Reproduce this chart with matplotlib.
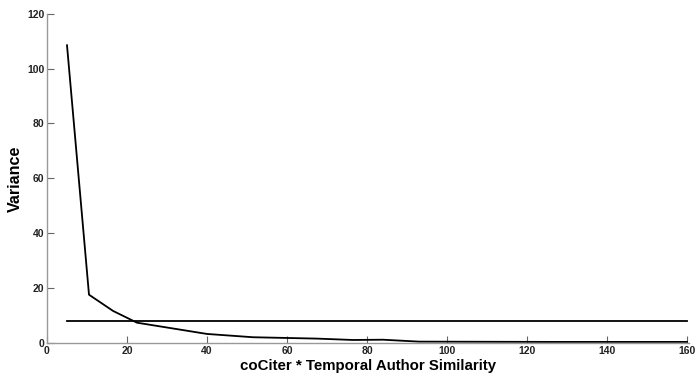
import matplotlib
matplotlib.use("Agg")
import matplotlib.pyplot as plt

# variance curve
num_clusters = [5, 10.5, 16.5, 22.5, 40, 51.5, 67.5, 76.5, 84, 93, 126, 160]
variance = [108.5, 17.6, 11.7, 7.4, 3.3, 2.1, 1.6, 1.1, 1.2, 0.5, 0.4, 0.4]

# threshold line
threshold_x = [5, 160]
threshold_y = [8.1, 8.1]

x_ticks = [0, 20, 40, 60, 80, 100, 120, 140, 160]
y_ticks = [0, 20, 40, 60, 80, 100, 120]

plt.rcParams["font.family"] = ["Liberation Sans", "DejaVu Sans"]

fig = plt.figure(figsize=(6.99, 3.73), dpi=100)
ax = fig.add_axes([47 / 699, 1 - 343 / 373, 642 / 699, 329.3 / 373])

ax.plot(num_clusters, variance, color="black", lw=1.3)
ax.plot(threshold_x, threshold_y, color="black", lw=1.3)

ax.set_xlim(0, 160.5)
ax.set_ylim(0, 120)
ax.set_xticks(x_ticks)
ax.set_yticks(y_ticks)

for side in ("top", "right"):
    ax.spines[side].set_visible(False)
for side in ("left", "bottom"):
    ax.spines[side].set_color("#999999")
    ax.spines[side].set_linewidth(1.0)

ax.tick_params(direction="in", length=5, width=0.8, color="#666666",
               labelsize=7.5, labelcolor="#222222", pad=2)
for lbl in ax.get_xticklabels() + ax.get_yticklabels():
    lbl.set_fontweight("bold")

ax.set_xlabel("coCiter * Temporal Author Similarity", fontsize=10.8,
              fontweight="bold", labelpad=2)
ax.set_ylabel("Variance", fontsize=11.6, fontweight="bold", labelpad=3)

fig.savefig("out.png", dpi=100)
